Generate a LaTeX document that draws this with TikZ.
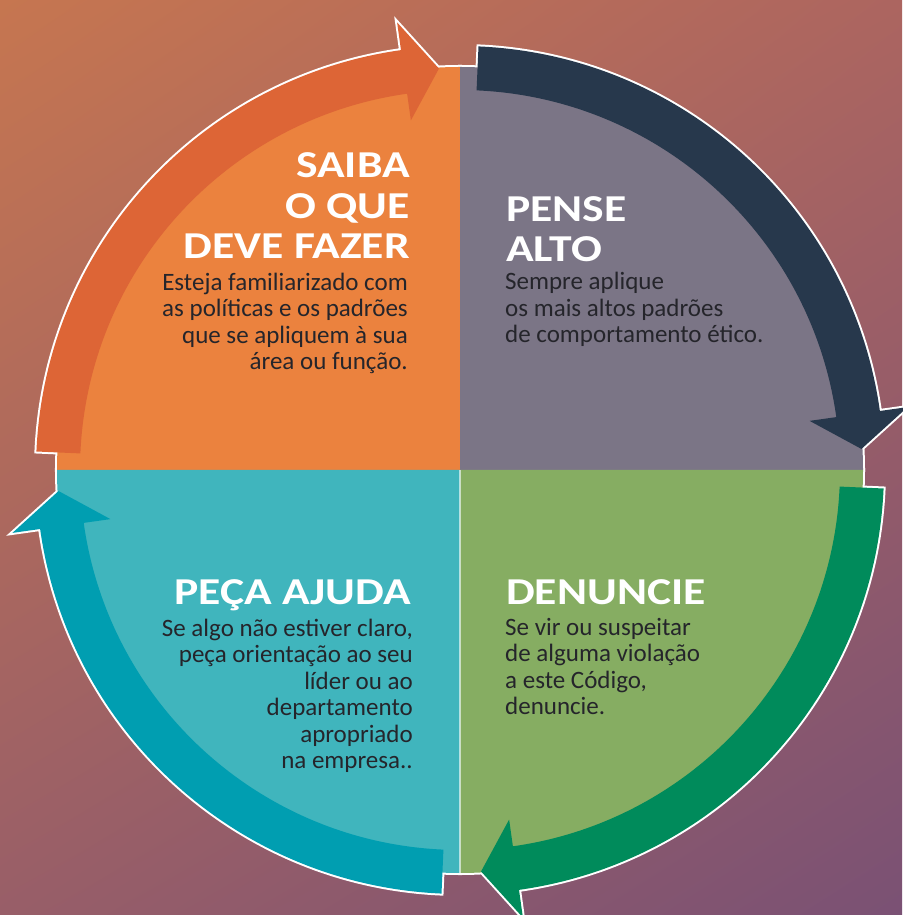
\documentclass[tikz,border=0pt]{standalone}
\usepackage{fontspec}
\setmainfont{Carlito}
\newfontfamily\ttlfont[FakeStretch=1.2]{Carlito}
\usetikzlibrary{shadings}

\definecolor{bgtl}{HTML}{C67650}
\definecolor{bgtr}{HTML}{AC6560}
\definecolor{bgbl}{HTML}{985E68}
\definecolor{bgbr}{HTML}{7A5174}
\definecolor{orngquad}{HTML}{EB823E}
\definecolor{orngarr}{HTML}{DD6536}
\definecolor{grayquad}{HTML}{7B7586}
\definecolor{navyarr}{HTML}{27384C}
\definecolor{grnquad}{HTML}{86AD62}
\definecolor{grnarr}{HTML}{008B5B}
\definecolor{tealquad}{HTML}{40B5BD}
\definecolor{tealarr}{HTML}{009EB1}
\definecolor{txtdark}{HTML}{25252B}

% one quarter of the disc, and the curved arrow lying on it
\newcommand\quadrant[1]{(0,0) -- (#1:403) arc[start angle=#1, end angle=#1+90, radius=403] -- cycle}
\newcommand\ringarrow[1]{(#1+87.5:424) arc[start angle=#1+87.5, end angle=#1+8, radius=424]
    -- (#1+8:452) -- (#1+3:402) -- (#1+8:353) -- (#1+8:380)
    arc[start angle=#1+8, end angle=#1+87.5, radius=380] -- cycle}

\tikzset{
  rim/.style={draw=white, line width=4pt, line join=miter},
  ttl/.style={font=\ttlfont\bfseries\fontsize{38}{40.5}\selectfont, text=white, inner sep=0pt},
  txt/.style={font=\fontsize{25}{26.5}\selectfont, text=txtdark, inner sep=0pt},
}

\begin{document}
\begin{tikzpicture}[x=1pt,y=1pt]
    \useasboundingbox (0,0) rectangle (902,915);
    \shade[upper left=bgtl, upper right=bgtr, lower left=bgbl, lower right=bgbr] (0,0) rectangle (902,915);

    \begin{scope}[shift={(460,445)}]
        % white outline round the whole wheel
        \foreach \q in {0,90,180,270} {
            \path[rim] \quadrant{\q};
            \path[rim] \ringarrow{\q};
        }
        \foreach \q/\qc/\ac in {90/orngquad/orngarr, 0/grayquad/navyarr, -90/grnquad/grnarr, 180/tealquad/tealarr} {
            \fill[\qc] \quadrant{\q};
            \fill[\ac] \ringarrow{\q};
        }
        \draw[white, opacity=.6, line width=1.5pt] (0,0) -- (0,-403);
    \end{scope}

    % base anchor sits on the last line
    \node[ttl, anchor=base east, align=right] (saiba) at (410,656) {SAIBA\\O QUE\\DEVE FAZER};
    \node[txt, anchor=base east, align=right] (saibatxt) at (408,545)
        {Esteja familiarizado com\\as políticas e os padrões\\que se apliquem à sua\\área ou função.};

    \node[ttl, anchor=base west, align=left] (pense) at (506,653) {PENSE\\ALTO};
    \node[txt, anchor=base west, align=left] (pensetxt) at (505,572)
        {Sempre aplique\\os mais altos padrões\\de comportamento ético.};

    \node[ttl, anchor=base east] (peca) at (411,310) {PEÇA AJUDA};
    \node[txt, anchor=base east, align=right] (pecatxt) at (413,146)
        {Se algo não estiver claro,\\peça orientação ao seu\\líder ou ao\\departamento\\apropriado\\na empresa..};

    \node[ttl, anchor=base west] (denuncie) at (506,310) {DENUNCIE};
    \node[txt, anchor=base west, align=left] (denuncietxt) at (505,200)
        {Se vir ou suspeitar\\de alguma violação\\a este Código,\\denuncie.};
\end{tikzpicture}
\end{document}
